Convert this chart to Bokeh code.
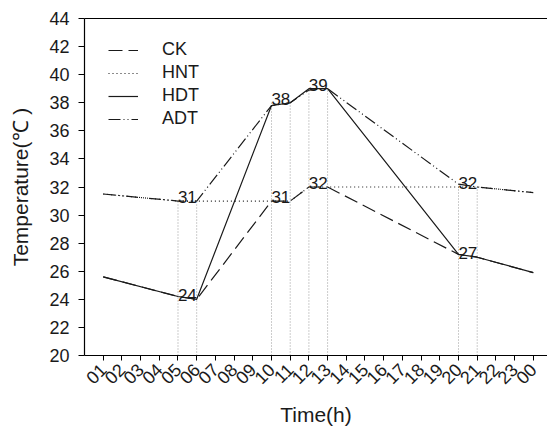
from bokeh.plotting import figure
from bokeh.models import Range1d, FixedTicker, LinearAxis
from bokeh.core.properties import value
from bokeh.embed import file_html
from bokeh.resources import INLINE

# ---- data ----
hours = [1, 5, 6, 10, 11, 12, 13, 20, 21, 24]
ck  = [25.6, 24.2, 24.0, 31.0, 31.0, 32.0, 32.0, 27.2, 27.0, 25.9]
hnt = [31.5, 31.0, 31.0, 31.0, 31.0, 32.0, 32.0, 32.0, 32.0, 31.6]
hdt = [25.6, 24.2, 24.0, 37.8, 38.0, 39.0, 39.0, 27.2, 27.0, 25.9]
adt = [31.5, 31.0, 31.0, 37.8, 38.0, 38.9, 39.0, 32.2, 32.0, 31.6]

tick_hours = list(range(1, 25))
tick_labels = ["01", "02", "03", "04", "05", "06", "07", "08", "09", "10", "11", "12",
               "13", "14", "15", "16", "17", "18", "19", "20", "21", "22", "23", "00"]
y_ticks = list(range(20, 45, 2))

ref_hours = [5, 6, 10, 11, 12, 13, 20, 21]
ref_tops = [31, 31, 38, 38, 39, 39, 32, 32]

ann_hour_pairs = [(5, 6), (5, 6), (10, 11), (12, 13), (10, 11), (12, 13), (20, 21), (20, 21)]
ann_values = [31, 24, 38, 39, 31, 32, 32, 27]

FONT = "Liberation Sans"
INK = "#1a1a1a"

p = figure(width=547, height=429, output_backend="svg", toolbar_location=None,
           x_range=Range1d(0, 24.76), y_range=Range1d(20, 44),
           min_border_left=84, min_border_right=0, min_border_top=18, min_border_bottom=74)
p.xgrid.visible = False
p.ygrid.visible = False
p.outline_line_color = None
p.background_fill_color = "white"
p.border_fill_color = "white"

# reference verticals
p.segment(x0=ref_hours, y0=[20] * len(ref_hours), x1=ref_hours, y1=ref_tops,
          line_color="#9a9a9a", line_width=1, line_dash="1 2")

# series
p.line(hours, adt, line_color=INK, line_width=1.2, line_dash="12 3 1 3 1 3", legend_label="ADT")
p.line(hours, hnt, line_color=INK, line_width=1.2, line_dash="1 3", legend_label="HNT")
p.line(hours, ck, line_color=INK, line_width=1.2, line_dash="14 6", legend_label="CK")
p.line(hours, hdt, line_color=INK, line_width=1.2, legend_label="HDT")

# reorder legend items: CK, HNT, HDT, ADT
leg = p.legend[0]
items = {it.label.value: it for it in leg.items}
leg.items = [items["CK"], items["HNT"], items["HDT"], items["ADT"]]
leg.location = (24, 226)
leg.margin = 0
leg.padding = 0
leg.spacing = 2
leg.glyph_width = 30
leg.glyph_height = 20
leg.label_height = 20
leg.label_standoff = 24
leg.border_line_color = None
leg.background_fill_alpha = 0
leg.label_text_font = FONT
leg.label_text_font_size = "18px"
leg.label_text_color = INK

# annotations
ann_x = [(a + b) / 2 for a, b in ann_hour_pairs]
p.text(x=ann_x, y=ann_values, text=[str(v) for v in ann_values],
       text_font=value(FONT), text_font_size="17px", text_color=INK,
       text_align="center", text_baseline="alphabetic", y_offset=-4)

# axes
xa = p.xaxis[0]
xa.ticker = FixedTicker(ticks=tick_hours)
xa.major_label_overrides = {h: lab for h, lab in zip(tick_hours, tick_labels)}
xa.major_label_orientation = 0.785398
xa.minor_tick_line_color = None
xa.major_tick_in = 0
xa.major_tick_out = 5
xa.major_label_standoff = 6
xa.axis_label = "Time(h)"
xa.axis_label_standoff = 10

ya = p.yaxis[0]
ya.ticker = FixedTicker(ticks=y_ticks)
ya.minor_tick_line_color = None
ya.major_tick_in = 0
ya.major_tick_out = 6
ya.major_label_standoff = 9
ya.axis_label = "Temperature(℃ )"
ya.axis_label_standoff = 14

for ax in (xa, ya):
    ax.axis_line_color = "black"
    ax.axis_line_width = 1.2
    ax.major_tick_line_color = "black"
    ax.major_label_text_font = FONT
    ax.major_label_text_font_size = "18px"
    ax.major_label_text_color = INK
    ax.axis_label_text_font = FONT
    ax.axis_label_text_font_size = "21px"
    ax.axis_label_text_font_style = "normal"
    ax.axis_label_text_color = INK

top = LinearAxis(ticker=FixedTicker(ticks=[]), major_label_text_font_size="0px",
                 major_tick_line_color=None, minor_tick_line_color=None,
                 axis_line_color="black", axis_line_width=1.2)
p.add_layout(top, "above")

open("out.html", "w").write(file_html(p, INLINE))
